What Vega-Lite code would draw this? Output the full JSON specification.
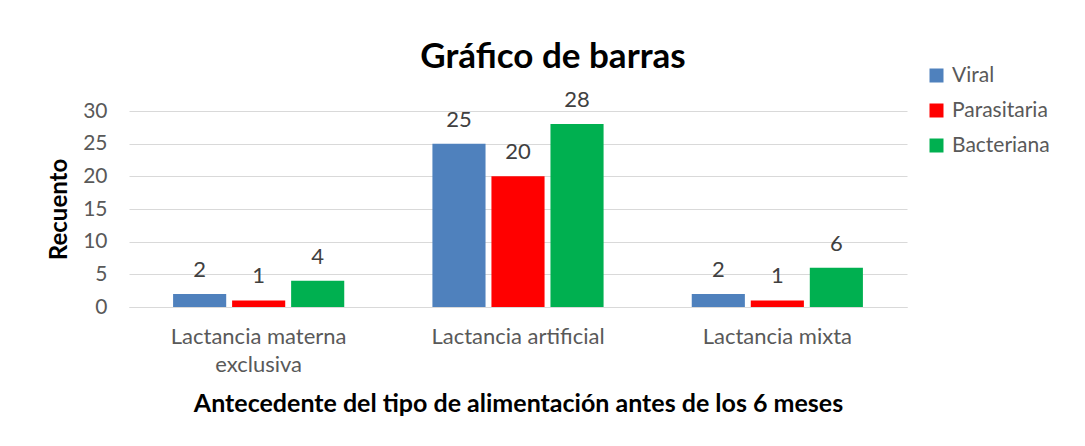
{
  "$schema": "https://vega.github.io/schema/vega-lite/v6.json",
  "width": 778,
  "height": 196,
  "autosize": {"type": "none"},
  "padding": {"left": 129, "top": 111, "right": 178, "bottom": 139},
  "background": "white",
  "title": {
    "text": "Gráfico de barras",
    "font": "Lato",
    "fontSize": 35,
    "fontWeight": "bold",
    "color": "#000000",
    "anchor": "middle",
    "dx": 35,
    "offset": -10
  },
  "data": {
    "values": [
      {"tipo": "Lactancia materna exclusiva", "serie": "Viral", "valor": 2},
      {"tipo": "Lactancia materna exclusiva", "serie": "Parasitaria", "valor": 1},
      {"tipo": "Lactancia materna exclusiva", "serie": "Bacteriana", "valor": 4},
      {"tipo": "Lactancia artificial", "serie": "Viral", "valor": 25},
      {"tipo": "Lactancia artificial", "serie": "Parasitaria", "valor": 20},
      {"tipo": "Lactancia artificial", "serie": "Bacteriana", "valor": 28},
      {"tipo": "Lactancia mixta", "serie": "Viral", "valor": 2},
      {"tipo": "Lactancia mixta", "serie": "Parasitaria", "valor": 1},
      {"tipo": "Lactancia mixta", "serie": "Bacteriana", "valor": 6}
    ]
  },
  "encoding": {
    "x": {
      "field": "tipo",
      "type": "nominal",
      "sort": ["Lactancia materna exclusiva", "Lactancia artificial", "Lactancia mixta"],
      "scale": {"paddingInner": 0.34, "paddingOuter": 0.17},
      "axis": {
        "title": "Antecedente del tipo de alimentación antes de los 6 meses",
        "titleFont": "Lato",
        "titleFontSize": 25,
        "titleFontWeight": "bold",
        "titleColor": "#000000",
        "titlePadding": 16,
        "labelFont": "Lato",
        "labelFontSize": 22,
        "labelColor": "#595959",
        "labelAngle": 0,
        "labelPadding": 19,
        "labelLineHeight": 28,
        "labelExpr": "datum.value == 'Lactancia materna exclusiva' ? ['Lactancia materna', 'exclusiva'] : datum.value",
        "ticks": false,
        "domainColor": "#D9D9D9",
        "grid": false
      }
    },
    "xOffset": {
      "field": "serie",
      "type": "nominal",
      "sort": ["Viral", "Parasitaria", "Bacteriana"],
      "scale": {"paddingInner": 0.1}
    },
    "y": {
      "field": "valor",
      "type": "quantitative",
      "scale": {"domain": [0, 30], "nice": false},
      "axis": {
        "title": "Recuento",
        "titleFont": "Lato",
        "titleFontSize": 24,
        "titleFontWeight": "bold",
        "titleColor": "#000000",
        "titlePadding": 11,
        "labelFont": "Lato",
        "labelFontSize": 21,
        "labelColor": "#595959",
        "labelPadding": 22,
        "values": [0, 5, 10, 15, 20, 25, 30],
        "ticks": false,
        "domain": false,
        "gridColor": "#D9D9D9",
        "gridWidth": 1
      }
    }
  },
  "layer": [
    {
      "mark": {"type": "bar"},
      "encoding": {
        "color": {
          "field": "serie",
          "type": "nominal",
          "sort": ["Viral", "Parasitaria", "Bacteriana"],
          "scale": {"domain": ["Viral", "Parasitaria", "Bacteriana"], "range": ["#4F81BD", "#FF0000", "#00B050"]},
          "legend": {
            "title": null,
            "orient": "none",
            "legendX": 797,
            "legendY": -46,
            "symbolType": "square",
            "symbolSize": 196,
            "symbolStrokeWidth": 0,
            "labelFont": "Lato",
            "labelFontSize": 21,
            "labelColor": "#595959",
            "labelOffset": 5,
            "rowPadding": 13
          }
        }
      }
    },
    {
      "mark": {"type": "text", "font": "Lato", "fontSize": 22, "color": "#404040", "baseline": "alphabetic", "dy": -17},
      "encoding": {
        "text": {"field": "valor", "type": "quantitative"}
      }
    }
  ],
  "config": {
    "view": {"stroke": null}
  }
}
